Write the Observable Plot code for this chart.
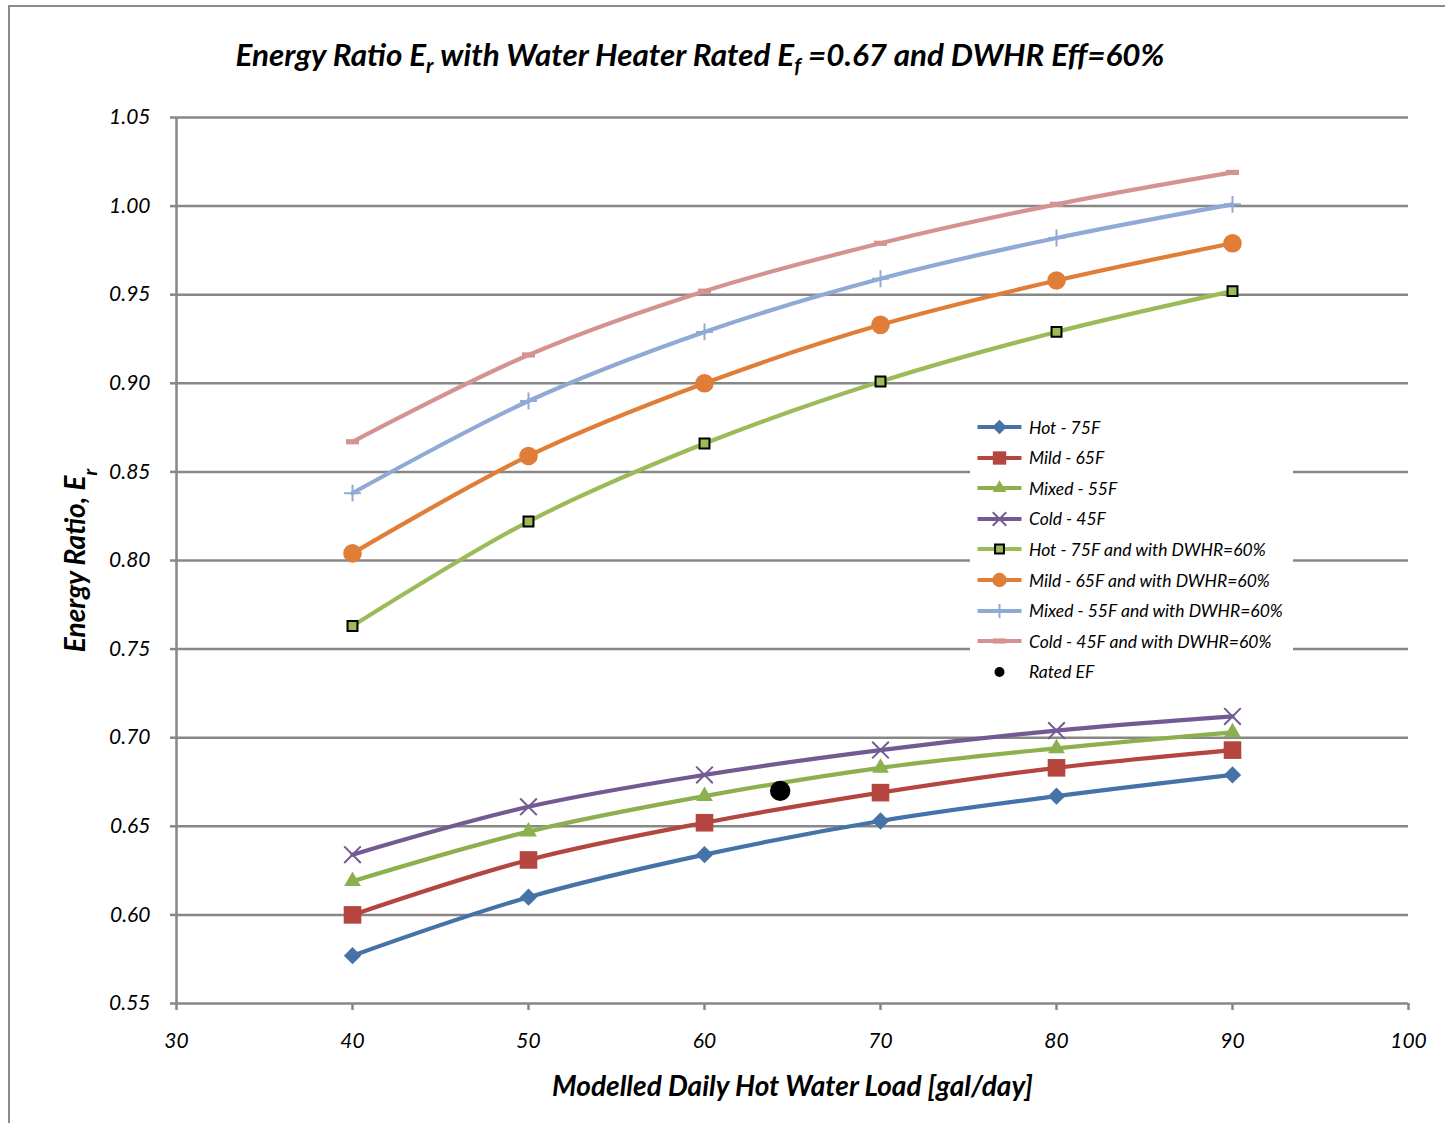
<!DOCTYPE html>
<html>
<head>
<meta charset="utf-8">
<script src="https://cdn.jsdelivr.net/npm/d3@7"></script>
<script src="https://cdn.jsdelivr.net/npm/@observablehq/plot@0.6"></script>
<style>
  body { margin: 0; background: #fff; font-family: Lato, "Open Sans", sans-serif; }
  #wrap { position: relative; width: 1445px; height: 1123px; overflow: hidden; background: #fff; }
  #frame { position: absolute; left: 8px; top: 5px; width: 1500px; height: 1200px; border: 2px solid #8c8c8c; box-sizing: border-box; }
  #title { position: absolute; top: 35px; left: 0; width: 1400px; text-align: center; font: italic 700 31.4px Lato, sans-serif; color: #000; white-space: nowrap; }
  #title sub { font-size: 21px; vertical-align: -7px; line-height: 0; }
  #chart { position: absolute; left: 0; top: 0; }
  #legend { position: absolute; left: 970px; top: 411px; width: 323px; height: 278px; background: #fff; }
  .row { position: absolute; left: 0; height: 30px; display: flex; align-items: center; }
  .row svg { display: block; margin-left: 6px; }
  .row span { font: italic 400 17.5px Lato, sans-serif; color: #000; margin-left: 6px; white-space: nowrap; }
</style>
</head>
<body>
<div id="wrap">
  <div id="frame"></div>
  <div id="chart"></div>
  <div id="title">Energy Ratio E<sub>r</sub> with Water Heater Rated E<sub>f</sub> =0.67 and DWHR Eff=60%</div>
  <div id="legend"></div>
</div>
<script>
// ---------- data ----------
const loads = [40, 50, 60, 70, 80, 90];
const hot75 = [0.577, 0.610, 0.634, 0.653, 0.667, 0.679];
const mild65 = [0.600, 0.631, 0.652, 0.669, 0.683, 0.693];
const mixed55 = [0.619, 0.647, 0.667, 0.683, 0.694, 0.703];
const cold45 = [0.634, 0.661, 0.679, 0.693, 0.704, 0.712];
const hot75DW = [0.763, 0.822, 0.866, 0.901, 0.929, 0.952];
const mild65DW = [0.804, 0.859, 0.900, 0.933, 0.958, 0.979];
const mixed55DW = [0.838, 0.890, 0.929, 0.959, 0.982, 1.001];
const cold45DW = [0.867, 0.916, 0.952, 0.979, 1.001, 1.019];
const ratedLoad = [64.3];
const ratedEF = [0.670];
const seriesNames = [
  "Hot - 75F", "Mild - 65F", "Mixed - 55F", "Cold - 45F",
  "Hot - 75F and with DWHR=60%", "Mild - 65F and with DWHR=60%",
  "Mixed - 55F and with DWHR=60%", "Cold - 45F and with DWHR=60%"
];
const ratedName = "Rated EF";
const xTicks = [30, 40, 50, 60, 70, 80, 90, 100];
const yTicks = [0.55, 0.60, 0.65, 0.70, 0.75, 0.80, 0.85, 0.90, 0.95, 1.00, 1.05];
const titleX = "Modelled Daily Hot Water Load [gal/day]";
const titleY = "Energy Ratio, E";
const titleYSub = "r";

// ---------- styles ----------
const dash = { draw(ctx, size) { ctx.rect(-6.5, -2.6, 13, 5.2); } };
const styles = [
  { color: "#4572A7", symbol: "diamond2", r: 7.8, fill: "#4572A7", stroke: "none", sw: 0, lr: 6.5 },
  { color: "#B4453F", symbol: "square2", r: 11.2, fill: "#B4453F", stroke: "none", sw: 0, lr: 8.5 },
  { color: "#8DB04E", symbol: "triangle2", r: 8.0, fill: "#8DB04E", stroke: "none", sw: 0, lr: 6.5 },
  { color: "#735A93", symbol: "times", r: 7.6, fill: "none", stroke: "#735A93", sw: 2, lr: 6.2 },
  { color: "#9BBB59", symbol: "square", r: 5.6, fill: "#9BBB59", stroke: "#000", sw: 2, lr: 5.0 },
  { color: "#E07E37", symbol: "circle", r: 9.3, fill: "#E07E37", stroke: "none", sw: 0, lr: 7.2 },
  { color: "#8FAAD5", symbol: "plus", r: 5.5, fill: "none", stroke: "#8FAAD5", sw: 2, lr: 4.6 },
  { color: "#D49391", symbol: dash, r: 5, fill: "#D49391", stroke: "none", sw: 0, lr: 5 }
];
const valuesList = [hot75, mild65, mixed55, cold45, hot75DW, mild65DW, mixed55DW, cold45DW];

const table = seriesNames.map((name, i) =>
  loads.map((x, j) => ({ series: name, load: x, er: valuesList[i][j] })));
const rated = ratedLoad.map((x, i) => ({ load: x, er: ratedEF[i] }));

const marks = [
  Plot.ruleY(yTicks, { stroke: "#878787", strokeWidth: 2.5 }),
  Plot.ruleX([30], { stroke: "#878787", strokeWidth: 2.5 }),
  Plot.axisY({ ticks: yTicks, tickFormat: d3.format(".2f"), tickSize: 6, tickPadding: 20, label: null, stroke: "#878787", strokeWidth: 2.5 }),
  Plot.axisX({ ticks: xTicks, tickFormat: d => String(d), tickSize: 7, tickPadding: 23, label: null, stroke: "#878787", strokeWidth: 2.5 })
];
table.forEach((data, i) => {
  const s = styles[i];
  marks.push(Plot.line(data, { x: "load", y: "er", stroke: s.color, strokeWidth: 4.2, curve: "catmull-rom" }));
  marks.push(Plot.dot(data, { x: "load", y: "er", symbol: s.symbol, r: s.r, fill: s.fill, stroke: s.stroke, strokeWidth: s.sw }));
});
marks.push(Plot.dot(rated, { x: "load", y: "er", r: 10.2, fill: "#000", stroke: "none" }));
marks.push(Plot.text([titleX], { frameAnchor: "bottom", dy: 92, fontSize: 28, fontWeight: "bold", fontStyle: "italic", fill: "#000" }));
marks.push(Plot.text([titleY], { frameAnchor: "left", textAnchor: "middle", dx: -100, dy: 0, rotate: -90, fontSize: 28, fontWeight: "bold", fontStyle: "italic", fill: "#000" }));

const chart = Plot.plot({
  width: 1445,
  height: 1123,
  marginLeft: 176,
  marginRight: 37,
  marginTop: 117,
  marginBottom: 120,
  x: { domain: [30, 100] },
  y: { domain: [0.55, 1.05] },
  style: { fontFamily: "Lato, sans-serif", fontSize: "21px", fontStyle: "italic", color: "#000", background: "transparent", overflow: "visible" },
  marks
});
document.getElementById("chart").appendChild(chart);

// subscript on y label
d3.select(chart).selectAll("text").filter(function () { return this.textContent === titleY; })
  .append("tspan").attr("baseline-shift", "sub").attr("font-size", 19).text(titleYSub);

// ---------- legend ----------
const legend = d3.select("#legend");
const legendItems = seriesNames.map((n, i) => ({ name: n, style: styles[i] })).concat([{ name: ratedName, style: null }]);
const symMap = { diamond2: d3.symbolDiamond2, square2: d3.symbolSquare2, triangle2: d3.symbolTriangle2, times: d3.symbolTimes, square: d3.symbolSquare, plus: d3.symbolPlus };
legendItems.forEach((item, i) => {
  const row = legend.append("div").attr("class", "row").style("top", (1 + i * 30.6) + "px");
  const svg = row.append("svg").attr("width", 47).attr("height", 30);
  const g = svg.append("g").attr("transform", "translate(23.5,15)");
  if (item.style) {
    const s = item.style;
    g.append("line").attr("x1", -22).attr("x2", 22).attr("stroke", s.color).attr("stroke-width", 4);
    if (s.symbol === "circle") {
      g.append("circle").attr("r", s.lr).attr("fill", s.fill);
    } else {
      const sym = typeof s.symbol === "string" ? symMap[s.symbol] : s.symbol;
      g.append("path").attr("d", d3.symbol(sym, Math.PI * s.lr ** 2)())
        .attr("fill", s.fill).attr("stroke", s.stroke).attr("stroke-width", s.sw);
    }
  } else {
    g.append("circle").attr("r", 5).attr("fill", "#000");
  }
  row.append("span").text(item.name);
});
</script>
</body>
</html>
